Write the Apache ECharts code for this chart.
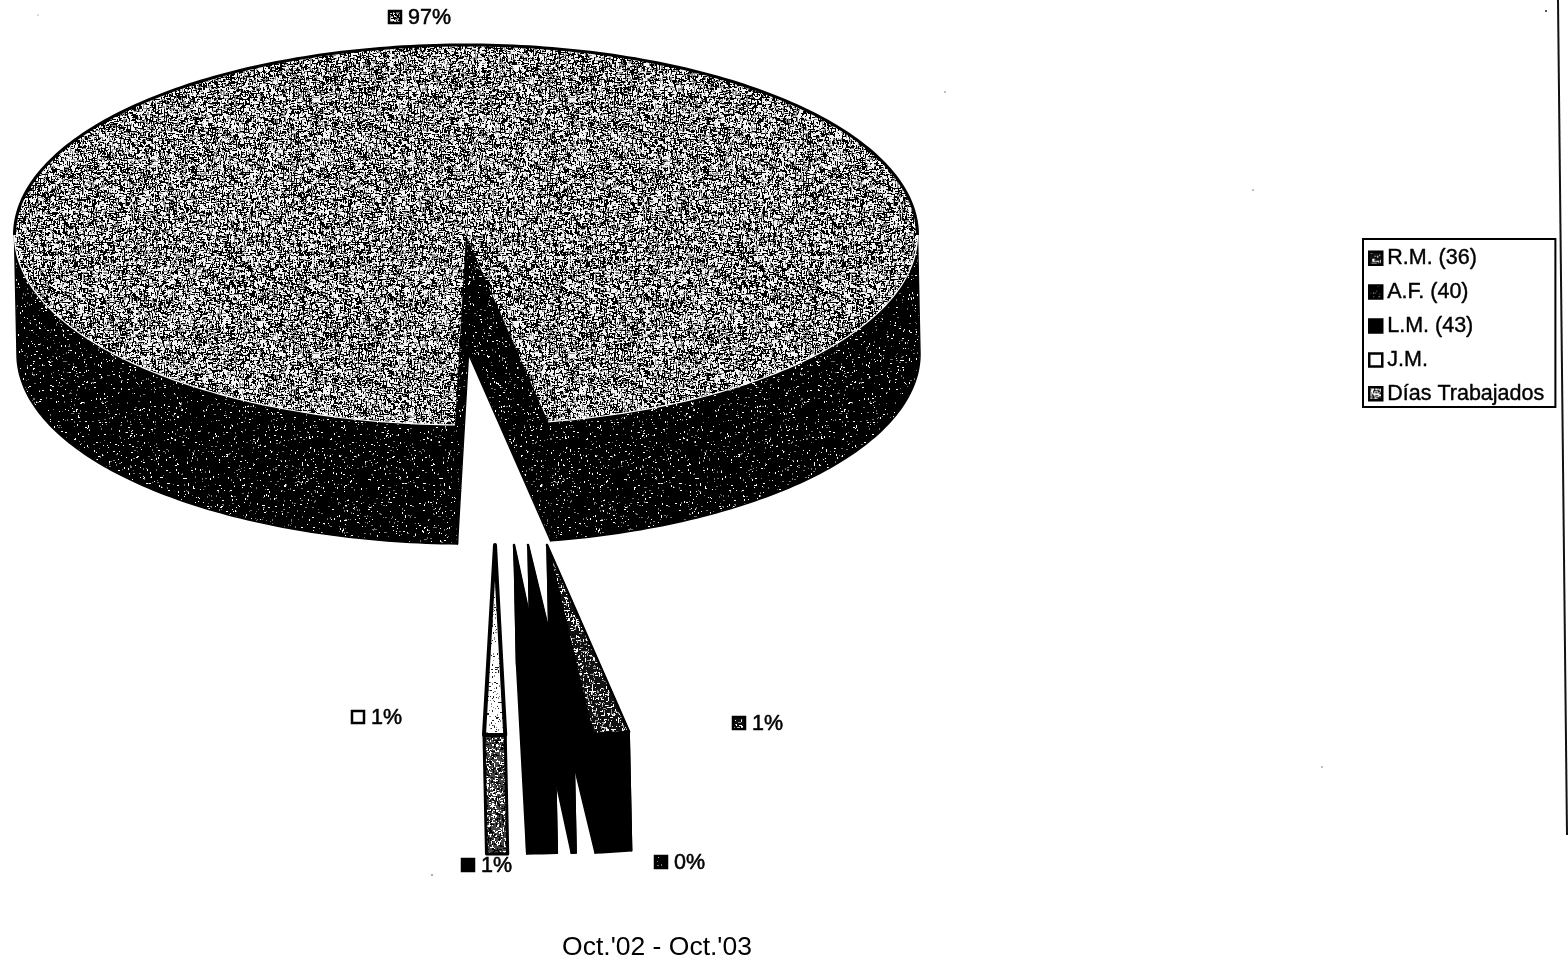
<!DOCTYPE html>
<html><head><meta charset="utf-8">
<style>html,body{margin:0;padding:0;background:#fff}#c{width:1568px;height:964px}</style>
<script src="https://cdn.jsdelivr.net/npm/echarts@6/dist/echarts.min.js"></script>
</head><body><div id="c"></div>
<script>
// ---- data ----
const sliceNames = ['J.M.', 'L.M. (43)', 'A.F. (40)', 'R.M. (36)', 'Días Trabajados'];
const sliceValues = [0.75, 1.08, 0.17, 1.3, 96.7];
const legendOrder = ['R.M. (36)', 'A.F. (40)', 'L.M. (43)', 'J.M.', 'Días Trabajados'];
const chartCaption = "Oct.'02 - Oct.'03";

// ---- layout and styling ----
const PIE = { rx: 451.5, ry: 190, depth: 119, skew: 2.5, startDeg: -1.4 };
const apexes = [[495, 545], [514, 545], [528, 545], [547, 545], [466, 235]];
const labelAnchors = [[352, 717], [462, 865], [655, 862], [733, 723], [389, 17]];

function grain(w, opts) {
  const cv = document.createElement('canvas');
  cv.width = cv.height = w;
  const g = cv.getContext('2d');
  g.fillStyle = opts.bg; g.fillRect(0, 0, w, w);
  let s = opts.seed;
  const rnd = () => (s = (s * 1664525 + 1013904223) % 4294967296) / 4294967296;
  const n = Math.round(w * w * opts.density);
  for (let i = 0; i < n; i++) {
    g.fillStyle = rnd() < opts.midShare ? opts.mid : opts.fg;
    const len = 1 + Math.floor(rnd() * opts.maxLen);
    const x = Math.floor(rnd() * w), y = Math.floor(rnd() * w);
    if (rnd() < 0.5) g.fillRect(x, y, len, 1); else g.fillRect(x, y, 1, len);
  }
  return { image: cv, repeat: 'repeat' };
}
const texGrey  = grain(256, { bg: '#f4f4f4', fg: '#000', mid: '#8a8a8a', midShare: 0.3, density: 0.34, maxLen: 4, seed: 11 });
const texWall  = grain(256, { bg: '#000', fg: '#fff', mid: '#777', midShare: 0.5, density: 0.04, maxLen: 2, seed: 23 });
const texDark  = grain(256, { bg: '#111', fg: '#fff', mid: '#999', midShare: 0.4, density: 0.14, maxLen: 3, seed: 37 });
const texLight = grain(256, { bg: '#fff', fg: '#222', mid: '#888', midShare: 0.4, density: 0.1, maxLen: 2, seed: 41 });
const texMid   = grain(256, { bg: '#444', fg: '#fff', mid: '#000', midShare: 0.5, density: 0.3, maxLen: 3, seed: 53 });

const topFill  = [texLight, '#000', '#000', texDark, texGrey];
const wallFill = [texMid, '#000', '#000', '#000', texWall];
const legendFill = ['#fff', '#000', texWall, texDark, texGrey];

const rad = d => d * Math.PI / 180;
function pt(apex, deg, dz) {
  return [apex[0] + PIE.rx * Math.sin(rad(deg)) + (dz ? PIE.skew : 0), apex[1] + PIE.ry * Math.cos(rad(deg)) + (dz || 0)];
}
function arc(apex, a0, a1, dz) {
  const pts = [], n = Math.max(2, Math.ceil(Math.abs(a1 - a0)));
  for (let i = 0; i <= n; i++) pts.push(pt(apex, a0 + (a1 - a0) * i / n, dz));
  return pts;
}
function wallPiece(apex, a0, a1, fill, lw) {
  const top = arc(apex, a0, a1, 0), bot = arc(apex, a0, a1, PIE.depth).reverse();
  return { type: 'polygon', shape: { points: top.concat(bot) },
    style: { fill, stroke: '#000', lineWidth: lw, lineJoin: 'round' } };
}
function rayWall(apex, a, fill) {
  return { type: 'polygon', shape: { points: [apex, pt(apex, a), pt(apex, a, PIE.depth), [apex[0] + PIE.skew, apex[1] + PIE.depth]] },
    style: { fill, stroke: '#000', lineWidth: 1.5, lineJoin: 'round' } };
}
const labelFont = '21.5px "Liberation Sans", Arial, sans-serif';
function labelParts(i, value) {
  const [x, y] = labelAnchors[i];
  return [
    { type: 'rect', shape: { x, y: y - 6, width: 12, height: 12 },
      style: { fill: legendFill[i], stroke: '#000', lineWidth: 2.5, lineJoin: 'miter' }, z2: 5 },
    { type: 'text', style: { x: x + 19, y: y + 1, text: Math.round(value) + '%',
      font: labelFont, fill: '#000', stroke: '#000', lineWidth: 0.5, verticalAlign: 'middle', align: 'left' }, z2: 5 }
  ];
}
const sweep = v => v * 3.6;
const starts = [];
sliceValues.reduce((acc, v, i) => { starts[i] = acc; return acc + sweep(v); }, PIE.startDeg);

function renderSlice(i, api) {
  const value = api.value(0);
  const a0 = starts[i], a1 = a0 + sweep(value), apex = apexes[i];
  const kids = [];
  kids.push(rayWall(apex, a0, wallFill[i]), rayWall(apex, a1, wallFill[i]));
  if (a1 - a0 > 180) {
    kids.push(wallPiece(apex, a0, 90, wallFill[i], 1.5), wallPiece(apex, 270, a1, wallFill[i], 1.5));
    kids.push({ type: 'polygon', shape: { points: [apex].concat(arc(apex, a0, a1, 0)) },
      style: { fill: topFill[i], stroke: null } });
    kids.push({ type: 'polyline', shape: { points: arc(apex, 90, 270, 0) },
      style: { fill: null, stroke: '#000', lineWidth: 3 } });
    kids.push({ type: 'polyline', shape: { points: arc(apex, a0, 90, 0) },
      style: { fill: null, stroke: '#fff', lineWidth: 1.2 } });
    kids.push({ type: 'polyline', shape: { points: arc(apex, 270, a1, 0) },
      style: { fill: null, stroke: '#fff', lineWidth: 1.2 } });
  } else {
    kids.push(wallPiece(apex, a0, a1, wallFill[i], i === 0 ? 3 : 1.5));
    kids.push({ type: 'polygon', shape: { points: [apex].concat(arc(apex, a0, a1, 0)) },
      style: { fill: topFill[i], stroke: '#000', lineWidth: i === 0 ? 4 : 2.5, lineJoin: 'round' } });
  }
  return { type: 'group', children: kids.concat(labelParts(i, value)) };
}

const drawOrder = [4, 3, 2, 1, 0];
const chart = echarts.init(document.getElementById('c'), null, { renderer: 'canvas' });
chart.setOption({
  animation: false,
  backgroundColor: '#fff',
  title: { text: chartCaption, left: 657, top: 934, textAlign: 'center',
    textStyle: { fontFamily: '"Liberation Sans", Arial, sans-serif', fontSize: 26.5, fontWeight: 'normal', color: '#000' }, padding: 0 },
  legend: {
    data: legendOrder, left: 1363, top: 239, orient: 'vertical', align: 'left',
    icon: 'rect',
    padding: [8, 11, 2, 5], itemWidth: 13, itemHeight: 13, itemGap: 11.5,
    borderColor: '#000', borderWidth: 2, backgroundColor: '#fff',
    itemStyle: { borderColor: '#000', borderWidth: 2.5 },
    textStyle: { fontFamily: '"Liberation Sans", Arial, sans-serif', fontSize: 21.5, color: '#000', lineHeight: 22,
      textBorderColor: '#000', textBorderWidth: 0.4 },
    selectedMode: false
  },
  series: drawOrder.map(i => ({
    type: 'custom', name: sliceNames[i], coordinateSystem: 'none', silent: true,
    itemStyle: { color: legendFill[i] },
    data: [[sliceValues[i]]],
    renderItem: (params, api) => renderSlice(i, api)
  })),
  graphic: [
    { type: 'polyline', shape: { points: [[1558, 0], [1567, 835]] }, style: { fill: null, stroke: '#111', lineWidth: 2 }, silent: true },
    { type: 'circle', shape: { cx: 1546, cy: 11, r: 1 }, style: { fill: '#222' }, silent: true },
    { type: 'circle', shape: { cx: 945, cy: 92, r: 0.7 }, style: { fill: '#555' }, silent: true },
    { type: 'circle', shape: { cx: 1253, cy: 190, r: 0.7 }, style: { fill: '#555' }, silent: true },
    { type: 'circle', shape: { cx: 1322, cy: 767, r: 0.7 }, style: { fill: '#555' }, silent: true },
    { type: 'circle', shape: { cx: 432, cy: 875, r: 0.8 }, style: { fill: '#444' }, silent: true },
    { type: 'circle', shape: { cx: 38, cy: 15, r: 0.6 }, style: { fill: '#666' }, silent: true }
  ]
});
</script></body></html>
